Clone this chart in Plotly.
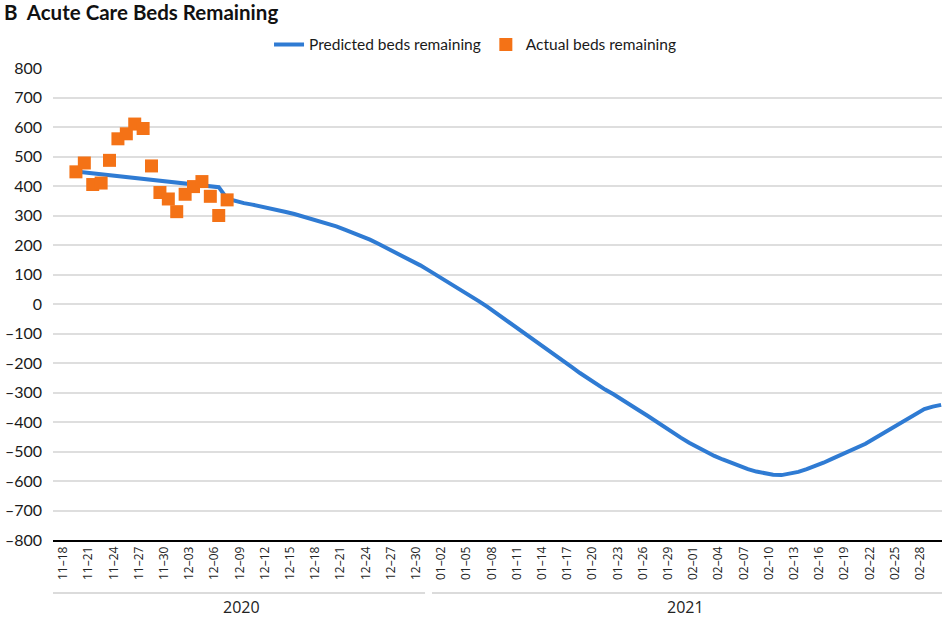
import pandas as pd
import plotly.graph_objects as go

# ---- data ----
start_date = "2020-11-19"
predicted = [
    449, 446, 443, 440, 437, 434, 431, 428, 425, 422, 419, 416, 413, 410, 407, 404, 400, 396,
    357, 348, 342, 337, 331, 327, 319, 312, 305, 297, 289, 281, 272, 263, 252, 241, 230, 218,
    204, 190, 176, 161, 146, 131, 114, 97, 80, 63, 46, 28, 9, -10, -30, -50, -71, -91, -111,
    -132, -152, -173, -193, -213, -234, -254, -273, -290, -306, -323, -342, -360, -378, -397,
    -417, -436, -453, -470, -486, -500, -515, -527, -538, -550, -560, -568, -575, -579, -580,
    -576, -569, -560, -550, -538, -525, -512, -500, -488, -474, -457, -440, -421, -404, -387,
    -370, -356, -348, -342,
]
actual = [448, 478, 405, 410, 487, 560, 577, 610, 595, 468, 378, 356, 313, 372, 398, 415, 365, 300, 353]

x_tick_labels = [
    "11–18", "11–21", "11–24", "11–27", "11–30", "12–03", "12–06", "12–09", "12–12", "12–15",
    "12–18", "12–21", "12–24", "12–27", "12–30", "01–02", "01–05", "01–08", "01–11", "01–14",
    "01–17", "01–20", "01–23", "01–26", "01–29", "02–01", "02–04", "02–07", "02–10", "02–13",
    "02–16", "02–19", "02–22", "02–25", "02–28",
]
y_tick_values = [800, 700, 600, 500, 400, 300, 200, 100, 0, -100, -200, -300, -400, -500, -600, -700, -800]
years = ["2020", "2021"]

dates_pred = pd.date_range(start_date, periods=len(predicted), freq="D")
dates_act = pd.date_range(start_date, periods=len(actual), freq="D")


def tick_date(lbl):
    m, d = lbl.split("–")
    y = "2020" if int(m) >= 11 else "2021"
    return f"{y}-{m}-{d}"


tickvals = [tick_date(l) for l in x_tick_labels]
y_ticktext = [str(v).replace("-", "–") for v in y_tick_values]

BLUE = "#2f7bd3"
ORANGE = "#f47216"
FONT = "Lato"

fig = go.Figure()
fig.add_trace(go.Scatter(
    x=dates_pred, y=predicted, mode="lines", name="Predicted beds remaining",
    line=dict(color=BLUE, width=4),
    xperiod=86400000, xperiodalignment="middle",
))
fig.add_trace(go.Scatter(
    x=dates_act, y=actual, mode="markers", name="Actual beds remaining",
    marker=dict(color=ORANGE, size=13, symbol="square", line=dict(width=0)),
    xperiod=86400000, xperiodalignment="middle",
))

fig.update_layout(
    width=942, height=619,
    margin=dict(l=53, r=0, t=68, b=79, autoexpand=False),
    paper_bgcolor="white", plot_bgcolor="white",
    font=dict(family=FONT, size=14, color="#1a1a1a"),
    showlegend=True,
    legend=dict(orientation="h", x=0.243, y=1.049, xanchor="left", yanchor="middle",
                font=dict(size=15.5), bgcolor="rgba(0,0,0,0)"),
    xaxis=dict(
        type="date", automargin=False,
        range=["2020-11-16 18:30", "2021-03-02 14:30"],
        tickmode="array", tickvals=tickvals, ticktext=x_tick_labels,
        tickangle=-90, tickfont=dict(family="Open Sans", size=12, color="#222"),
        showgrid=False, showline=True, linecolor="#000", linewidth=1.5,
        ticks="", zeroline=False,
    ),
    yaxis=dict(
        automargin=False,
        range=[-800, 800],
        tickmode="array", tickvals=y_tick_values, ticktext=y_ticktext,
        tickfont=dict(size=16, color="#1a1a1a"),
        showgrid=True, gridcolor="#dedede", gridwidth=1.5,
        zeroline=False, showline=False, ticks="", ticklabelstandoff=10,
    ),
)

fig.add_annotation(
    text="<b>B  Acute Care Beds Remaining</b>", xref="paper", yref="paper",
    x=-51 / 889, y=1 + (68 - 12) / 472, xanchor="left", yanchor="middle",
    showarrow=False, font=dict(family=FONT, size=20.5, color="#111"),
)

# year group labels and separators
sep_y = -(593 - 540) / 472
year_y = -(607 - 540) / 472
groups = [(0.0, 0.4185, 0.2115), (0.4263, 1.0, 0.712)]
for (x0, x1, xc), yr in zip(groups, years):
    fig.add_shape(type="line", xref="paper", yref="paper", x0=x0, x1=x1, y0=sep_y, y1=sep_y,
                  line=dict(color="#cfcfcf", width=1.5))
    fig.add_annotation(text=yr, xref="paper", yref="paper", x=xc, y=year_y,
                       xanchor="center", yanchor="middle", showarrow=False,
                       font=dict(family="Open Sans", size=16, color="#222"))

fig.write_html(
    "out.html",
    config={"displayModeBar": False},
    post_script="document.body.style.margin='0';document.body.style.overflow='hidden';",
)
